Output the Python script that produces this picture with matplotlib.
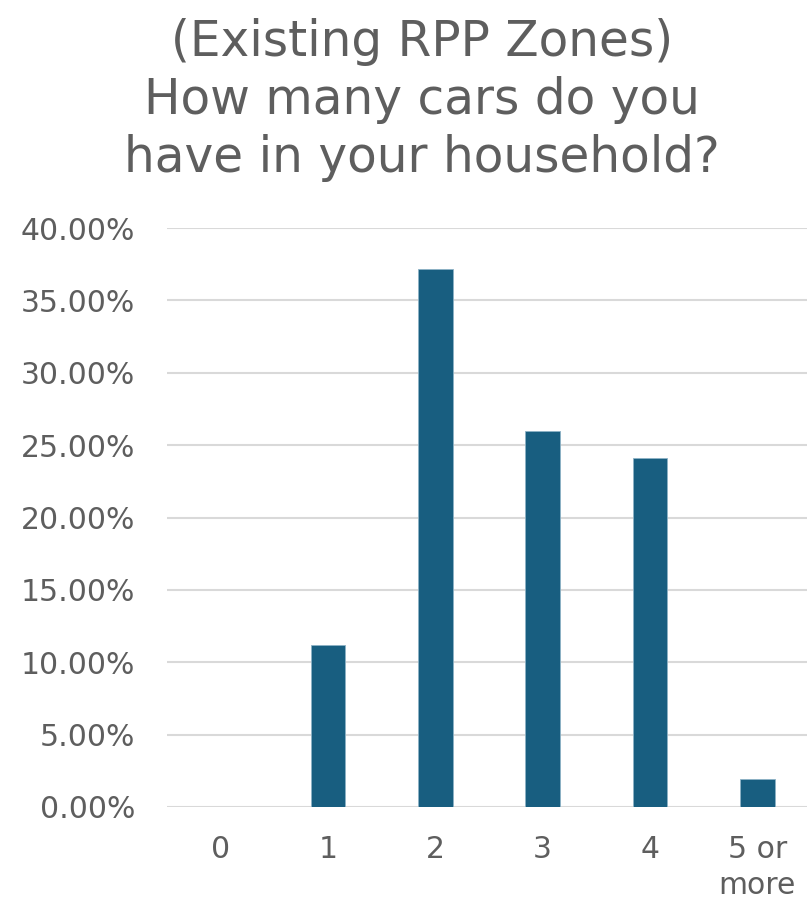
import matplotlib.pyplot as plt
from matplotlib.ticker import FuncFormatter

categories = ["0", "1", "2", "3", "4", "5 or\nmore"]
shares = [0.0, 0.1118, 0.3714, 0.2600, 0.2411, 0.0194]

title = "(Existing RPP Zones)\nHow many cars do you\nhave in your household?"
bar_color = "#185E80"
text_color = "#5E5E5E"

plt.rcParams['font.family'] = ['DejaVu Sans']

fig = plt.figure(figsize=(8.07, 9), dpi=100)
ax = fig.add_axes([167 / 807, 1 - 807 / 900, 644 / 807, (807 - 228) / 900])

x = range(len(categories))
ax.bar(x, shares, width=0.325, color=bar_color, edgecolor="#8DB2C6", linewidth=0.6, zorder=3)

ax.set_xlim(-0.5, len(categories) - 0.5)
ax.set_ylim(0, 0.40)
ax.set_yticks([i * 0.05 for i in range(9)])
ax.yaxis.set_major_formatter(FuncFormatter(lambda v, p: f"{v * 100:.2f}%"))
ax.set_xticks(list(x))
ax.set_xticklabels(categories, linespacing=1.3)

ax.grid(axis="y", color="#D9D9D9", linewidth=1.5, zorder=0)
for s in ax.spines.values():
    s.set_visible(False)
ax.tick_params(axis="both", length=0, labelsize=21.5, labelcolor=text_color)
ax.tick_params(axis="y", pad=23)
ax.tick_params(axis="x", pad=20)

fig.text(422 / 807, 1 - 100 / 900, title, ha="center", va="center",
         fontsize=35, color=text_color, linespacing=1.27)

fig.savefig("out.png", dpi=100)
